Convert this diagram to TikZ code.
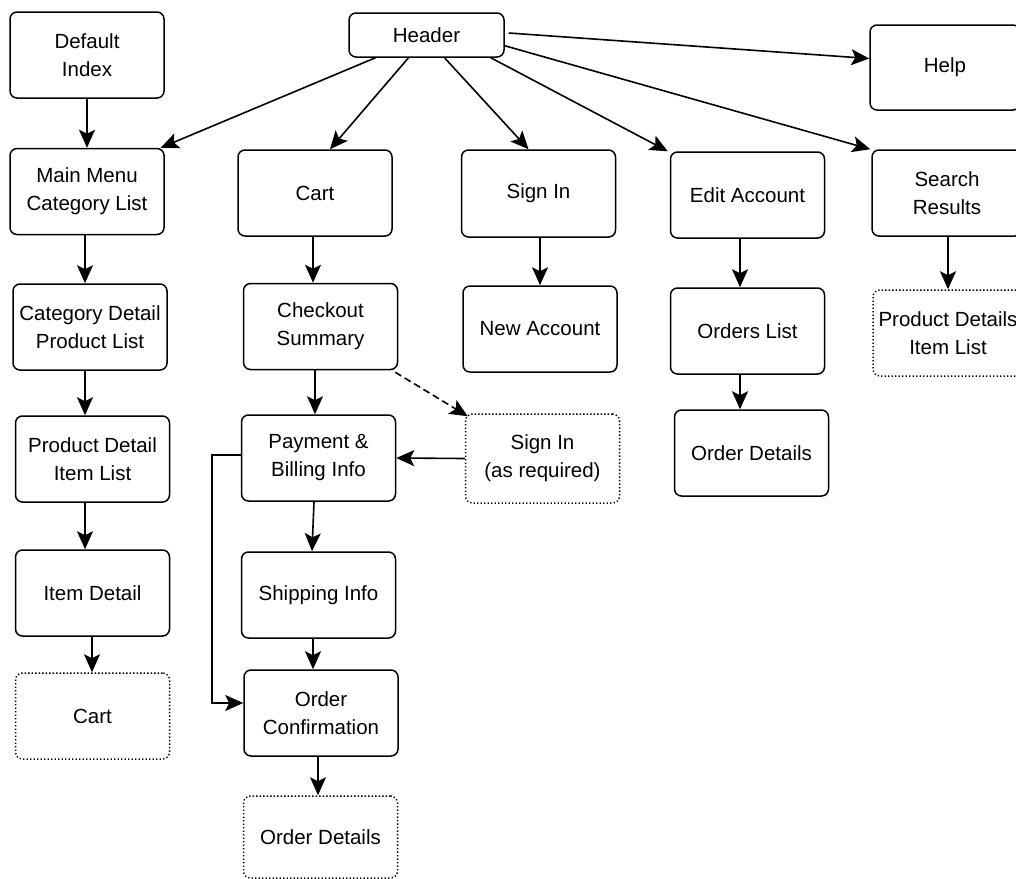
\documentclass[tikz,border=0pt]{standalone}
\usepackage{fontspec}
\setmainfont{Liberation Sans}
\usetikzlibrary{arrows.meta}
\tikzset{
  pg/.style={draw, line width=1.5pt, rounded corners=7pt, minimum width=154pt, minimum height=86pt, inner sep=0pt, align=center, font=\fontsize{20.5}{28}\selectfont},
  pgdot/.style={pg, dash pattern=on 1.3pt off 2.2pt},
  arr/.style={line width=1.6pt, -{Stealth[length=18pt,width=16pt,inset=4pt]}},
}
\begin{document}
\begin{tikzpicture}[x=1pt,y=-1pt]
\useasboundingbox (0,0) rectangle (1016,878);
\clip (0,0) rectangle (1016,878);
% left column
\node[pg] (defidx) at (87,55) {Default\\Index};
\node[pg] (mainmenu) at (87,191.5) {Main Menu\\Category List};
\node[pg] (catdet) at (90,327) {Category Detail\\Product List};
\node[pg] (proddet) at (92.5,459) {Product Detail\\Item List};
\node[pg] (itemdet) at (92.5,593) {Item Detail};
\node[pgdot] (cartd) at (92.5,716) {Cart};
% header
\node[pg, minimum width=155pt, minimum height=44pt] (header) at (426.5,35) {Header};
% cart column
\node[pg] (cart) at (315,193) {Cart};
\node[pg] (checkout) at (320.5,326.5) {Checkout\\Summary};
\node[pg] (payment) at (318.5,458) {Payment \&\\Billing Info};
\node[pg] (shipping) at (318.5,595) {Shipping Info};
\node[pg] (orderconf) at (321,713) {Order\\Confirmation};
\node[pgdot, minimum height=82pt] (orderdet) at (320.5,837) {Order Details};
% sign in column
\node[pg, minimum height=87pt] (signin) at (538.5,193.5) {Sign In};
\node[pg] (newacc) at (540,329) {New Account};
\node[pgdot, minimum height=89pt] (signreq) at (542.5,458.5) {Sign In\\(as required)};
% edit account column
\node[pg] (editacc) at (747.5,195) {Edit Account};
\node[pg] (orders) at (747.5,331) {Orders List};
\node[pg] (orddet2) at (751.5,453) {Order Details};
% right column
\node[pg, minimum width=150pt, minimum height=85pt] (help) at (945,67.5) {Help};
\node[pg, minimum width=150pt] (search) at (947,193) {Search\\Results};
\node[pgdot, minimum width=150pt] (proditem) at (948,333) {Product Details\\Item List};
% header arrows
\draw[arr] ([xshift=-51pt]header.south) -- ([xshift=-4pt]mainmenu.north east);
\draw[arr] ([xshift=-18pt]header.south) -- ([xshift=15pt]cart.north);
\draw[arr] ([xshift=18pt]header.south) -- ([xshift=-10pt]signin.north);
\draw[arr] ([xshift=-14pt]header.south east) -- ([xshift=-2pt]editacc.north west);
\draw[arr] ([yshift=12pt]header.south east) -- ([xshift=-1pt]search.north west);
\draw[arr] ([xshift=4pt,yshift=2pt]header.east) -- ([yshift=9pt]help.west);
% left column arrows
\draw[arr] (defidx.south) -- (mainmenu.north);
\draw[arr] ([xshift=-2pt]mainmenu.south) -- ([xshift=-5pt]catdet.north);
\draw[arr] ([xshift=-5pt]catdet.south) -- ([xshift=-7.5pt]proddet.north);
\draw[arr] ([xshift=-7.5pt]proddet.south) -- ([xshift=-7.5pt]itemdet.north);
\draw[arr] ([xshift=-0.5pt]itemdet.south) -- ([xshift=-0.5pt]cartd.north);
% cart column arrows
\draw[arr] ([xshift=-2pt]cart.south) -- ([xshift=-7.5pt]checkout.north);
\draw[arr] ([xshift=-5.5pt]checkout.south) -- ([xshift=-3.5pt]payment.north);
\draw[arr] ([xshift=-4.5pt]payment.south) -- ([xshift=-6.5pt]shipping.north);
\draw[arr] ([xshift=-5.5pt]shipping.south) -- ([xshift=-8pt]orderconf.north);
\draw[arr] ([xshift=-3pt]orderconf.south) -- ([xshift=-2.5pt]orderdet.north);
\draw[arr, dash pattern=on 7pt off 4pt] ([xshift=-3pt,yshift=-2pt]checkout.south east) -- ([xshift=3pt,yshift=-3pt]signreq.north west);
\draw[arr] (signreq.west) -- (payment.east);
\draw[arr, rounded corners=0pt] ([yshift=3pt]payment.west) -- ++(-29,0) |- ([yshift=10pt]orderconf.west);
% other columns
\draw[arr] ([xshift=1.5pt]signin.south) -- (newacc.north);
\draw[arr] ([xshift=-7.5pt]editacc.south) -- ([xshift=-7.5pt]orders.north);
\draw[arr] ([xshift=-7.5pt]orders.south) -- ([xshift=-11.5pt]orddet2.north);
\draw[arr] ([xshift=1pt]search.south) -- (proditem.north);
\end{tikzpicture}
\end{document}
